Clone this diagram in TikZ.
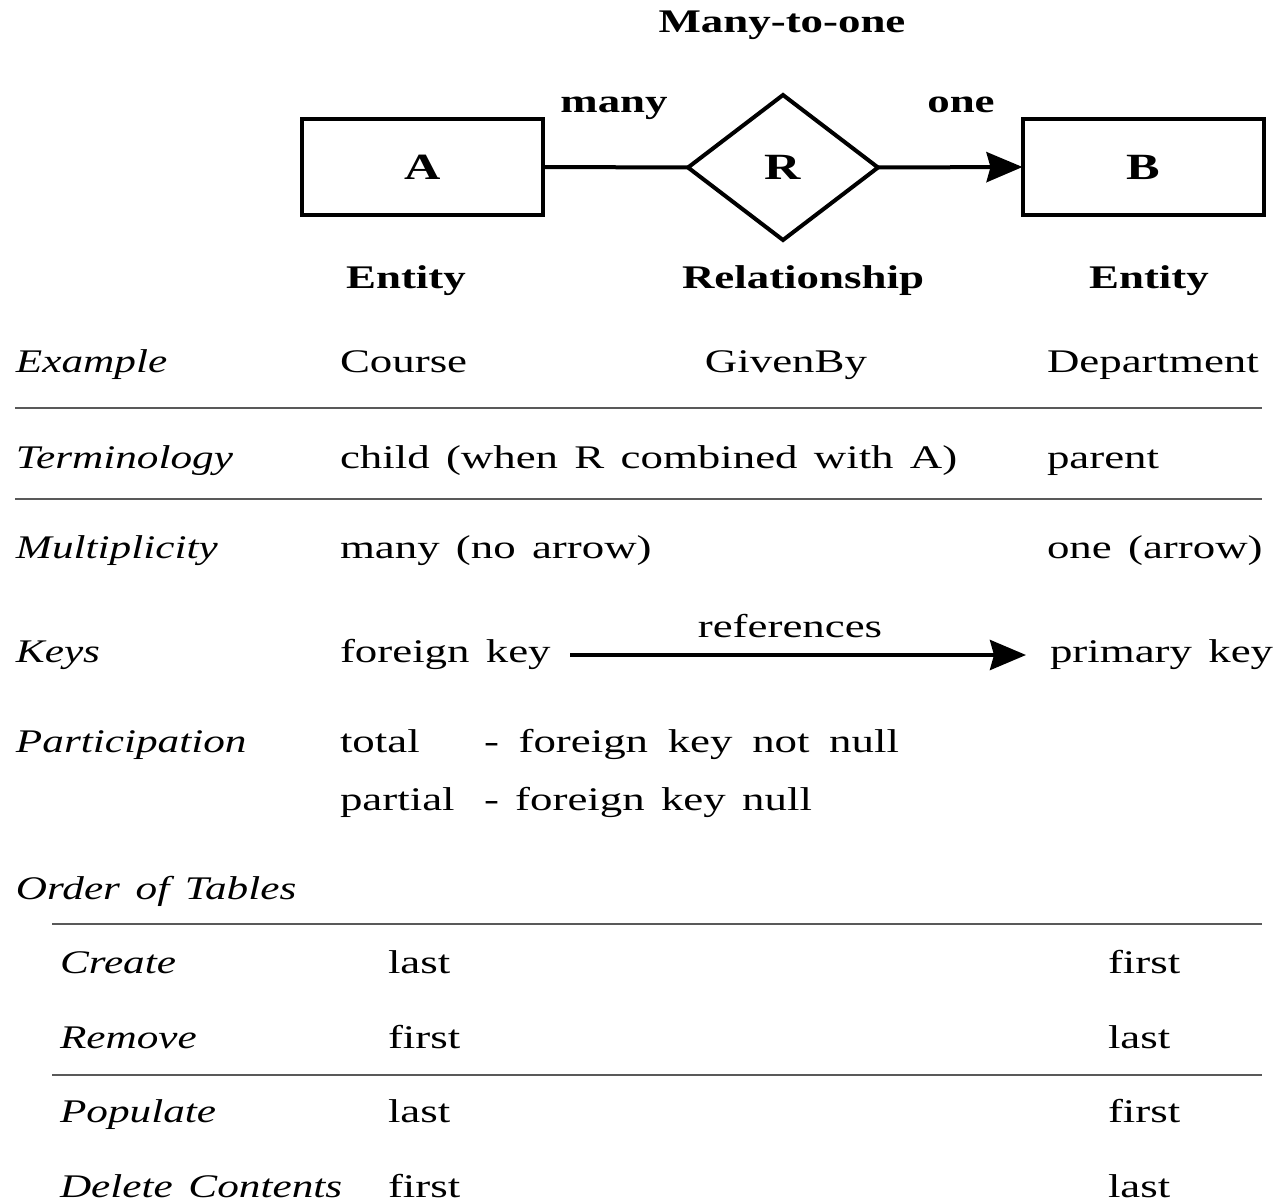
\documentclass[tikz,border=0pt]{standalone}
\usepackage{fontspec}
\setmainfont{Liberation Serif}[FakeStretch=1.36, WordSpace=1.45,
  ItalicFeatures={FakeStretch=1.31}]
\newfontfamily\widespaced{Liberation Serif}[FakeStretch=1.36, WordSpace=1.75]
\usetikzlibrary{shapes.geometric,arrows.meta}
\begin{document}
\begin{tikzpicture}[x=1pt,y=-1pt,
  every node/.style={inner sep=0pt, outer sep=0pt, font=\fontsize{33}{40}\selectfont},
  txt/.style={anchor=base west},
  ctxt/.style={anchor=base},
  hd/.style={anchor=base, font=\fontsize{33}{40}\selectfont\bfseries},
  lbl/.style={anchor=base west, font=\fontsize{33}{40}\selectfont\itshape},
  entity/.style={draw, line width=4pt, minimum width=241pt, minimum height=96pt,
    font=\fontsize{37}{44}\selectfont\bfseries},
  relship/.style={draw, diamond, line width=4pt, minimum width=190pt, minimum height=145pt,
    font=\fontsize{37}{44}\selectfont\bfseries},
  erline/.style={line width=4pt},
  tip/.style={-{Stealth[length=36pt,width=30pt,inset=4pt]}},
  rule/.style={draw=black!65, line width=1.5pt}]
\useasboundingbox (0,0) rectangle (1286,1204);

% ER diagram
\node[hd] (title) at (782,33) {Many-to-one};
\node[entity] (boxA) at (422.5,167) {A};
\node[relship] (rel) at (783,167.5) {R};
\node[entity] (boxB) at (1143,167) {B};
\draw[erline] (boxA.east) -- (rel.west);
\draw[erline,tip] (rel.east) -- (boxB.west);
\node[hd] (many) at (614,113) {many};
\node[hd] (one) at (961,113) {one};
\node[hd] (entA) at (406,288) {Entity};
\node[hd] (relname) at (803,288) {Relationship};
\node[hd] (entB) at (1149,288) {Entity};

% Example row
\node[lbl] (lex) at (16,372) {Example};
\node[txt] (course) at (340,372) {Course};
\node[ctxt] (givenby) at (786,372) {GivenBy};
\node[txt] (dept) at (1047,372) {Department};
\path[rule] (15,408) -- (1262,408);

% Terminology row
\node[lbl] (lterm) at (16,468) {Terminology};
\node[txt] (child) at (340,468) {child (when R combined with A)};
\node[txt] (parent) at (1047,468) {parent};
\path[rule] (15,499) -- (1262,499);

% Multiplicity row
\node[lbl] (lmult) at (16,558) {Multiplicity};
\node[txt] (mmany) at (340,558) {many (no arrow)};
\node[txt] (mone) at (1047,558) {one (arrow)};

% Keys row
\node[lbl] (lkeys) at (16,662) {Keys};
\node[txt] (fk) at (340,662) {foreign key};
\node[txt] (pk) at (1050,662) {primary key};
\coordinate (refS) at (570,655);
\coordinate (refE) at (1026,655);
\draw[erline,tip] (refS) -- (refE);
\node[ctxt] (refs) at (790,637) {references};

% Participation row
\node[lbl] (lpart) at (16,752) {Participation};
\node[txt] (ptotal) at (340,752) {total};
\node[txt,font=\fontsize{33}{40}\widespaced] (ptotald) at (484,752) {- foreign key not null};
\node[txt] (ppart) at (340,810) {partial};
\node[txt] (ppartd) at (484,810) {- foreign key null};

% Order of tables
\node[lbl] (lorder) at (16,899) {Order of Tables};
\path[rule] (52,924) -- (1262,924);
\node[lbl] (lcreate) at (60,973) {Create};
\node[txt] (c1) at (388,973) {last};
\node[txt] (c2) at (1108,973) {first};
\node[lbl] (lremove) at (60,1048) {Remove};
\node[txt] (r1) at (388,1048) {first};
\node[txt] (r2) at (1108,1048) {last};
\path[rule] (52,1075) -- (1262,1075);
\node[lbl] (lpop) at (60,1122) {Populate};
\node[txt] (p1) at (388,1122) {last};
\node[txt] (p2) at (1108,1122) {first};
\node[lbl] (ldel) at (60,1197) {Delete Contents};
\node[txt] (d1) at (388,1197) {first};
\node[txt] (d2) at (1108,1197) {last};
\end{tikzpicture}
\end{document}
